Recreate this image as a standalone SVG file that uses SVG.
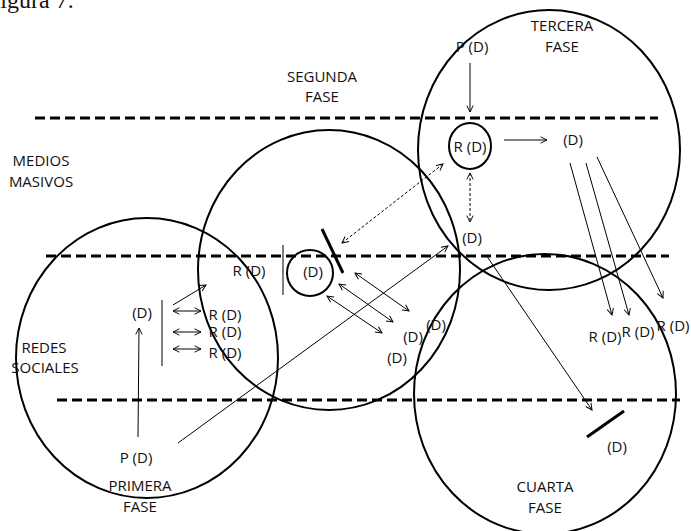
<svg xmlns="http://www.w3.org/2000/svg" width="691" height="531" viewBox="0 0 691 531">
  <style>
    .ring { fill: none; stroke: #000; stroke-width: 2; }
    .band { stroke: #000; stroke-width: 3; stroke-dasharray: 10 5; }
    .ln { fill: none; stroke: #000; stroke-width: 1; }
    .dot { stroke-dasharray: 3 2; }
    .bar { stroke: #000; stroke-width: 3; }
    .tick { stroke: #555; stroke-width: 1.5; }
    text { font-family: "Open Sans", "Noto Sans", sans-serif; font-size: 15px; fill: #111; text-anchor: middle; }
    .cap { font-family: "Liberation Serif", serif; font-size: 24px; text-anchor: start; }
  </style>
  <defs>
    <marker id="open" viewBox="0 0 10 10" refX="9" refY="5" markerWidth="8" markerHeight="8" markerUnits="userSpaceOnUse" orient="auto-start-reverse">
      <path d="M1,1 L9,5 L1,9" fill="none" stroke="#000" stroke-width="1.2"/>
    </marker>
  </defs>
  <rect width="691" height="531" fill="#fff"/>

  <!-- caption -->
  <text class="cap" x="-13" y="8">Figura 7.</text>

  <!-- layer boundaries -->
  <g id="bands">
    <line class="band" x1="35" y1="118" x2="658" y2="118"/>
    <line class="band" x1="46" y1="256" x2="669" y2="256"/>
    <line class="band" x1="57" y1="400" x2="680" y2="400"/>
  </g>

  <!-- layer names -->
  <g id="medios">
    <text x="41" y="166">MEDIOS</text>
    <text x="41" y="187">MASIVOS</text>
  </g>
  <g id="redes">
    <text x="44" y="353">REDES</text>
    <text x="45" y="373">SOCIALES</text>
  </g>

  <!-- phases -->
  <g id="fase1">
    <ellipse class="ring" cx="147" cy="358" rx="131" ry="140"/>
    <text x="140" y="491">PRIMERA</text>
    <text x="140" y="512">FASE</text>
  </g>
  <g id="fase2">
    <ellipse class="ring" cx="329" cy="270" rx="131" ry="140"/>
    <text x="322" y="82">SEGUNDA</text>
    <text x="322" y="102">FASE</text>
  </g>
  <g id="fase3">
    <ellipse class="ring" cx="549" cy="150" rx="131" ry="140"/>
    <text x="562" y="31">TERCERA</text>
    <text x="562" y="52">FASE</text>
  </g>
  <g id="fase4">
    <ellipse class="ring" cx="545" cy="394" rx="131" ry="140"/>
    <text x="545" y="492">CUARTA</text>
    <text x="545" y="513">FASE</text>
  </g>

  <!-- first phase nodes -->
  <g id="p1"><text x="136" y="463">P (D)</text></g>
  <g id="d1"><text x="142" y="318">(D)</text></g>
  <g id="wall1"><line class="tick" x1="162" y1="300" x2="162" y2="366"/></g>
  <g id="r1a"><text x="225" y="320">R (D)</text></g>
  <g id="r1b"><text x="225" y="337">R (D)</text></g>
  <g id="r1c"><text x="225" y="358">R (D)</text></g>

  <!-- second phase nodes -->
  <g id="r2"><text x="249" y="276">R (D)</text></g>
  <g id="wall2"><line class="tick" x1="283" y1="245" x2="283" y2="295"/></g>
  <g id="d2">
    <circle class="ring" cx="310" cy="273" r="23"/>
    <text x="313" y="277">(D)</text>
  </g>
  <g id="block2"><line class="bar" x1="322" y1="229" x2="343" y2="273"/></g>
  <g id="d2a"><text x="436" y="330">(D)</text></g>
  <g id="d2b"><text x="413" y="342">(D)</text></g>
  <g id="d2c"><text x="397" y="363">(D)</text></g>
  <g id="d2top"><text x="472" y="243">(D)</text></g>

  <!-- third phase nodes -->
  <g id="p3"><text x="472" y="52">P (D)</text></g>
  <g id="r3">
    <ellipse class="ring" cx="470" cy="146" rx="21" ry="23"/>
    <text x="470" y="152">R (D)</text>
  </g>
  <g id="d3"><text x="573" y="145">(D)</text></g>
  <g id="r3a"><text x="605" y="342">R (D)</text></g>
  <g id="r3b"><text x="638" y="337">R (D)</text></g>
  <g id="r3c"><text x="673" y="331">R (D)</text></g>

  <!-- fourth phase nodes -->
  <g id="block4"><line class="bar" x1="587" y1="437" x2="624" y2="411"/></g>
  <g id="d4"><text x="617" y="452">(D)</text></g>

  <!-- connectors -->
  <g id="connectors">
    <line class="ln" x1="138" y1="437" x2="139" y2="328" marker-end="url(#open)"/>
    <line class="ln" x1="173" y1="305" x2="206" y2="285" marker-end="url(#open)"/>
    <line class="ln" x1="173" y1="311" x2="201" y2="311" marker-start="url(#open)" marker-end="url(#open)"/>
    <line class="ln" x1="173" y1="332" x2="201" y2="332" marker-start="url(#open)" marker-end="url(#open)"/>
    <line class="ln" x1="173" y1="349" x2="201" y2="349" marker-start="url(#open)" marker-end="url(#open)"/>
    <line class="ln" x1="178" y1="443" x2="448" y2="246" marker-end="url(#open)"/>

    <line class="ln" x1="355" y1="273" x2="409" y2="311" marker-start="url(#open)" marker-end="url(#open)"/>
    <line class="ln" x1="339" y1="284" x2="393" y2="322" marker-start="url(#open)" marker-end="url(#open)"/>
    <line class="ln" x1="327" y1="296" x2="382" y2="333" marker-start="url(#open)" marker-end="url(#open)"/>
    <line class="ln dot" x1="342" y1="243" x2="443" y2="164" marker-start="url(#open)" marker-end="url(#open)"/>
    <line class="ln dot" x1="470" y1="173" x2="470" y2="222" marker-start="url(#open)" marker-end="url(#open)"/>

    <line class="ln" x1="470" y1="63" x2="470" y2="112" marker-end="url(#open)"/>
    <line class="ln" x1="504" y1="140" x2="547" y2="140" marker-end="url(#open)"/>
    <line class="ln" x1="570" y1="163" x2="612" y2="315" marker-end="url(#open)"/>
    <line class="ln" x1="586" y1="163" x2="629" y2="315" marker-end="url(#open)"/>
    <line class="ln" x1="597" y1="157" x2="663" y2="298" marker-end="url(#open)"/>

    <line class="ln" x1="486" y1="255" x2="592" y2="410" marker-end="url(#open)"/>
  </g>
</svg>
